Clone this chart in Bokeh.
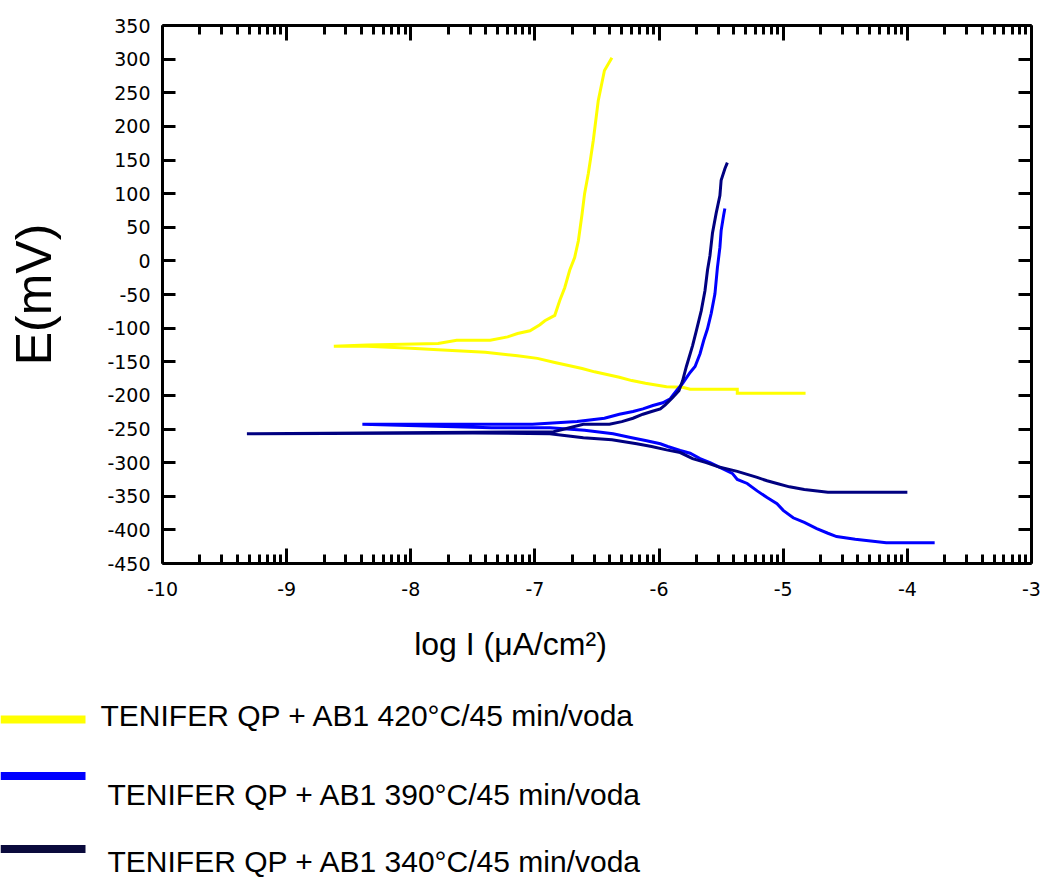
import numpy as np
from bokeh.plotting import figure
from bokeh.models import LinearAxis, FixedTicker, Range1d
from bokeh.layouts import column
from bokeh.embed import file_html
from bokeh.resources import INLINE
from bokeh.core.properties import value

# ---------------- data ----------------
series_names = [
    "TENIFER QP + AB1 420°C/45 min/voda",
    "TENIFER QP + AB1 390°C/45 min/voda",
    "TENIFER QP + AB1 340°C/45 min/voda",
]

# 420 °C (yellow): log I, E (mV)
x_420 = [-4.82, -5.37, -5.37, -5.75, -5.81, -5.94, -6.11, -6.22, -6.32, -6.42, -6.52,
         -6.62, -6.72, -6.84, -6.98, -7.14, -7.40, -7.78, -8.00, -8.35, -8.62,
         -8.35, -7.78, -7.63, -7.36, -7.22, -7.14, -7.04, -6.96, -6.92, -6.84,
         -6.80, -6.76, -6.72, -6.68, -6.65, -6.62, -6.60, -6.57, -6.55, -6.53,
         -6.49, -6.44, -6.38]
y_420 = [-197, -197, -191, -191, -188, -187, -182, -178, -173, -169, -165,
         -160, -156, -151, -145, -141, -136, -132, -130, -127, -127,
         -125, -123, -118, -118, -113, -108, -104, -95, -89, -81,
         -59, -40, -14, 5, 30, 70, 100, 130, 154, 179,
         238, 283, 302]

# 390 °C (blue)
x_390 = [-3.78, -4.17, -4.42, -4.57, -4.64, -4.73, -4.83, -4.92, -5.00, -5.05, -5.13,
         -5.21, -5.29, -5.37, -5.41, -5.51, -5.59, -5.67, -5.75, -5.83, -5.93,
         -5.99, -6.11, -6.22, -6.37, -6.60, -6.88, -7.35, -8.39,
         -7.02, -6.66, -6.44, -6.32, -6.21, -6.13, -6.05, -5.97, -5.91, -5.86,
         -5.81, -5.75, -5.71, -5.67, -5.64, -5.61, -5.58, -5.55, -5.53, -5.51,
         -5.50, -5.48, -5.47]
y_390 = [-419, -419, -414, -410, -405, -398, -389, -382, -371, -361, -352,
         -342, -331, -325, -316, -307, -300, -294, -286, -282, -276,
         -272, -267, -263, -257, -252, -248, -248, -243,
         -243, -239, -234, -228, -224, -220, -215, -211, -205, -193,
         -182, -166, -157, -138, -118, -101, -78, -49, -10, 20,
         45, 68, 78]

# 340 °C (navy)
x_340 = [-4.00, -4.64, -4.83, -4.95, -5.05, -5.13, -5.21, -5.37, -5.51, -5.62, -5.73,
         -5.83, -5.94, -6.06, -6.18, -6.38, -6.61, -6.88, -7.50, -9.32,
         -7.50, -6.85, -6.61, -6.40, -6.30, -6.21, -6.13, -6.06, -5.99, -5.95,
         -5.89, -5.84, -5.81, -5.78, -5.73, -5.70, -5.66, -5.63, -5.61, -5.59,
         -5.57, -5.54, -5.51, -5.50, -5.47, -5.45]
y_340 = [-344, -344, -340, -336, -331, -327, -322, -313, -307, -300, -294,
         -285, -281, -276, -272, -266, -263, -257, -256, -257,
         -255, -254, -243, -243, -239, -234, -228, -224, -220, -214,
         -203, -193, -178, -157, -126, -104, -74, -44, -14, 8,
         41, 71, 97, 120, 137, 146]

x_ticks = [-10, -9, -8, -7, -6, -5, -4, -3]
y_ticks = [-450, -400, -350, -300, -250, -200, -150, -100, -50, 0,
           50, 100, 150, 200, 250, 300, 350]
x_label = "log I (μA/cm²)"
y_label = "E(mV)"

# ---------------- styles / layout ----------------
series_colors = ["#FFFF00", "#0000FF", "#000080"]
legend_colors = ["#FFFF00", "#0000FF", "#0A0A3C"]
TICK_FONT = "DejaVu Sans"
TEXT_FONT = "Liberation Sans"

W = 1046
H1 = 615           # main chart panel
H2 = 879 - H1      # x title + legend panel
FL, FR, FT, FB = 162, 1031, 25, 563   # frame edges in canvas pixels

p = figure(width=W, height=H1,
           x_range=Range1d(-10, -3), y_range=Range1d(-450, 350),
           output_backend="svg", toolbar_location=None,
           min_border_left=FL, min_border_right=W - FR,
           min_border_top=FT, min_border_bottom=H1 - FB,
           background_fill_color="white", border_fill_color="white",
           outline_line_color=None)
p.xgrid.visible = False
p.ygrid.visible = False

minor = [d + np.log10(k) for d in range(-10, -3) for k in range(2, 10)]
xt = FixedTicker(ticks=x_ticks, minor_ticks=minor)
yt = FixedTicker(ticks=y_ticks, minor_ticks=[])


def style_axis(ax, major_in, minor_in, ticks, labels=True):
    ax.axis_line_width = 3
    ax.axis_line_color = "black"
    ax.major_tick_in = major_in
    ax.major_tick_out = 0
    ax.major_tick_line_width = 3
    ax.minor_tick_in = minor_in
    ax.minor_tick_out = 0
    ax.minor_tick_line_width = 3
    ax.major_label_text_font = TICK_FONT
    ax.major_label_text_font_size = "19px"
    ax.major_label_text_color = "black"
    if labels:
        ax.major_label_overrides = {t: str(t) for t in ticks}
    else:
        ax.major_label_overrides = {t: "" for t in ticks}
        ax.major_label_standoff = 0


bx = p.below[0]
bx.ticker = xt
style_axis(bx, 15, 9, x_ticks)
bx.major_label_standoff = 18

ly = p.left[0]
ly.ticker = yt
style_axis(ly, 13, 0, y_ticks)
ly.major_label_standoff = 12
ly.axis_label = y_label
ly.axis_label_text_font = TEXT_FONT
ly.axis_label_text_font_size = "50px"
ly.axis_label_text_font_style = "normal"
ly.axis_label_text_color = "black"
ly.axis_label_standoff = 42

top = LinearAxis(ticker=xt)
style_axis(top, 15, 9, x_ticks, labels=False)
p.add_layout(top, "above")

right = LinearAxis(ticker=yt)
style_axis(right, 13, 0, y_ticks, labels=False)
p.add_layout(right, "right")

for xs, ys, c in [(x_420, y_420, series_colors[0]),
                  (x_390, y_390, series_colors[1]),
                  (x_340, y_340, series_colors[2])]:
    p.line(xs, ys, line_color=c, line_width=3, line_join="miter")

# ---------------- lower panel: x title + legend (pixel coordinates) ----------------
p2 = figure(width=W, height=H2,
            x_range=Range1d(0, W), y_range=Range1d(H2, 0),
            output_backend="svg", toolbar_location=None,
            min_border=0, x_axis_type=None, y_axis_type=None,
            outline_line_color=None,
            background_fill_color="white", border_fill_color="white")
p2.grid.visible = False

for fig in (p, p2):
    if "frame_align" in fig.properties():
        fig.frame_align = False

p2.text(x=[510], y=[643 - H1], text=[x_label],
        text_font=value(TEXT_FONT), text_font_size="32px",
        text_align="center", text_baseline="middle", text_color="black")

leg_line_y = [719 - H1, 775.5 - H1, 848.5 - H1]
leg_text_x = [100, 107, 107]
leg_text_y = [715 - H1, 794 - H1, 861 - H1]
p2.segment(x0=[0, 0, 0], x1=[85, 85, 85], y0=leg_line_y, y1=leg_line_y,
           line_color=legend_colors, line_width=8)
p2.text(x=leg_text_x, y=leg_text_y, text=series_names,
        text_font=value(TEXT_FONT), text_font_size="30px",
        text_align="left", text_baseline="middle", text_color="black")

layout = column(p, p2, spacing=0)
open("out.html", "w").write(file_html(layout, INLINE))
